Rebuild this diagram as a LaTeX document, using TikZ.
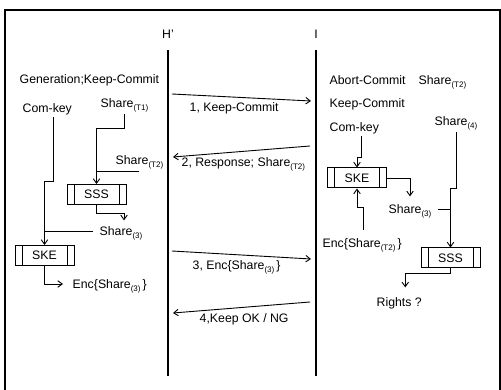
\documentclass[tikz,border=0pt]{standalone}
\usepackage{fontspec}
\setmainfont{Liberation Sans}
\usetikzlibrary{arrows.meta}
\newcommand{\shr}[1]{Share\raisebox{-0.45ex}{\fontsize{8}{8}\selectfont(#1)}}

\begin{document}
\begin{tikzpicture}[x=1pt,y=-1pt,font=\fontsize{12.3}{14}\selectfont,
  >={Straight Barb[length=4.5pt,width=6.5pt]},
  proc/.style={draw,line width=1pt,minimum width=59pt,minimum height=20pt,inner sep=0pt,
    path picture={
      \draw[line width=0.8pt] ([xshift=7pt]path picture bounding box.north west) -- ([xshift=7pt]path picture bounding box.south west);
      \draw[line width=0.8pt] ([xshift=-7pt]path picture bounding box.north east) -- ([xshift=-7pt]path picture bounding box.south east);}},
  txt/.style={anchor=base west,inner sep=1.5pt},
  wire/.style={line width=0.9pt},
  flow/.style={wire,->},
  lane/.style={line width=1.2pt}]

\useasboundingbox (0,0) rectangle (501,390);

% frame
\draw[line width=2pt] (5,395) -- (5,10) -- (500,10) -- (500,395);

% H' and I
\node[anchor=base] (hH) at (168,39) {H'};
\node[anchor=base] (hI) at (316,39) {I};
\coordinate (Htop) at (168,50);
\coordinate (Hbot) at (168,376);
\coordinate (Itop) at (316,50);
\coordinate (Ibot) at (316,376);
\draw[lane] (Htop) -- (Hbot);
\draw[lane] (Itop) -- (Ibot);

% messages
\coordinate (m1a) at (172,94);  \coordinate (m1b) at (311,101);
\coordinate (m2a) at (310,146); \coordinate (m2b) at (173,157);
\coordinate (m3a) at (172,251); \coordinate (m3b) at (311,259);
\coordinate (m4a) at (310,302); \coordinate (m4b) at (173,313);
\draw[flow] (m1a) -- (m1b);
\draw[flow] (m2a) -- (m2b);
\draw[flow] (m3a) -- (m3b);
\draw[flow] (m4a) -- (m4b);
\node[txt] (l1) at (188,112) {1, Keep-Commit};
\node[txt] (l2) at (180,167) {2, Response; \shr{T2}};
\node[txt] (l3) at (191,270) {3, Enc\{\shr{3}\,\}};
\node[txt] (l4) at (198,323) {4,Keep OK / NG};

% H' side
\node[txt] (gen) at (18,84) {Generation;Keep-Commit};
\node[txt] (ckL) at (21,113) {Com-key};
\node[txt] (s1) at (99,108) {\shr{T1}};
\node[txt] (s2) at (114,165) {\shr{T2}};
\node[proc] (sssL) at (96.5,194.5) {SSS};
\node[txt] (sh3L) at (98,236) {\shr{3}};
\node[proc] (skeL) at (44.5,255.5) {SKE};
\node[txt] (encL) at (71,289) {Enc\{\shr{3}\,\}};

\coordinate (jL) at ([xshift=-5pt,yshift=5pt]sh3L.base west);
\draw[flow] ([xshift=6.5pt]ckL.south) -- ++(0,64) -| (skeL.north);
\draw[flow] (s1.south) -- ++(0,14) -| (sssL.north);
\draw[wire] (s2.south) -- (s2.south -| sssL.north);
\draw[flow,shorten >=5pt] (sssL.south) -- ++(0,8) -| ([xshift=3pt]sh3L.north);
\draw[wire] (jL) -- (jL -| skeL.north);
\draw[flow] (skeL.south) |- ([xshift=-8pt,yshift=5pt]encL.base west);

% I side
\node[txt] (abort) at (328,85) {Abort-Commit};
\node[txt] (s2R) at (417,85) {\shr{T2}};
\node[txt] (keep) at (328,108) {Keep-Commit};
\node[txt] (ckR) at (328,132) {Com-key};
\node[txt] (s4) at (433,126) {\shr{4}};
\node[proc] (skeR) at (357,178) {SKE};
\node[txt] (sh3R) at (387,214) {\shr{3}};
\node[txt] (encR) at (321,248) {Enc\{\shr{T2}\,\}};
\node[proc] (sssR) at (450.5,258) {SSS};
\node[txt] (rt) at (375,306) {Rights ?};

\coordinate (jR) at ([xshift=5pt,yshift=5pt]sh3R.base east);
\draw[flow] ([xshift=7.5pt]ckR.south) -- ++(0,21) -| (skeR.north);
\draw[flow,shorten <=7pt] ([xshift=1pt]encR.north) -- ++(0,-30) -| (skeR.south);
\draw[flow,shorten >=7pt] (skeR.east) -| (sh3R.north);
\draw[flow] (s4.south) -- ++(0,56) -| (sssR.north);
\draw[wire] (jR) -- (jR -| sssR.north);
\draw[flow,shorten >=8pt] (sssR.south) -- ++(0,5) -| ([xshift=6pt]rt.north);
\end{tikzpicture}
\end{document}
